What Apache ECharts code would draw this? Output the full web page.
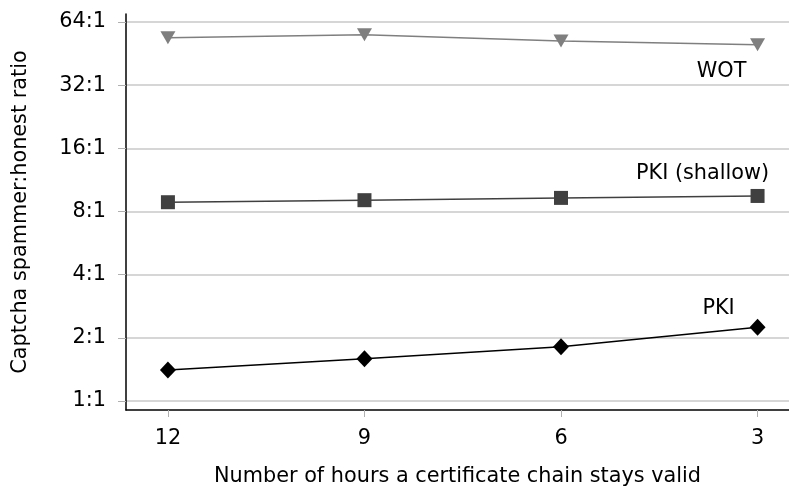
<!DOCTYPE html>
<html><head><meta charset="utf-8">
<script src="https://cdn.jsdelivr.net/npm/echarts@6/dist/echarts.min.js"></script>
<style>html,body{margin:0;padding:0;background:#fff}#c{width:789px;height:486px}</style>
</head><body><div id="c"></div>
<script>
const hours = [12, 9, 6, 3];
const wot = [53.9, 55.7, 52.0, 49.9];
const pkiShallow = [8.86, 9.06, 9.29, 9.49];
const pki = [1.405, 1.59, 1.816, 2.247];
const yTicks = [1, 2, 4, 8, 16, 32, 64];
const yTickLabels = ['1:1', '2:1', '4:1', '8:1', '16:1', '32:1', '64:1'];
const seriesNames = ['WOT', 'PKI (shallow)', 'PKI'];

const FONT = 'DejaVu Sans';
const FS = 20.8;
function mk(vals, name, labelOffset) {
  return vals.map((v, i) => {
    const d = { value: [hours[i], v] };
    if (i === vals.length - 1) {
      d.label = { show: true, position: 'inside', formatter: name, offset: labelOffset,
        color: '#000', fontFamily: FONT, fontSize: FS };
    }
    return d;
  });
}
const chart = echarts.init(document.getElementById('c'), null, { renderer: 'canvas' });
chart.setOption({
  animation: false,
  grid: { left: 126, right: 0, top: 14, bottom: 76, containLabel: false, outerBoundsMode: 'none' },
  xAxis: {
    type: 'value', inverse: true, min: 2.52, max: 12.64,
    name: 'Number of hours a certificate chain stays valid',
    nameLocation: 'middle', nameGap: 56,
    nameTextStyle: { fontFamily: FONT, fontSize: FS, color: '#000' },
    axisLine: { show: true, onZero: false, lineStyle: { color: '#000', width: 1.5 } },
    axisTick: { show: true, length: 7, customValues: hours, lineStyle: { color: '#b0b0b0', width: 1 } },
    axisLabel: { customValues: hours, margin: 18, fontFamily: FONT, fontSize: FS, color: '#000' },
    splitLine: { show: false }
  },
  yAxis: {
    type: 'log', logBase: 2, min: 0.906, max: 69.9,
    name: 'Captcha spammer:honest ratio',
    nameLocation: 'middle', nameGap: 95,
    nameTextStyle: { fontFamily: FONT, fontSize: FS, color: '#000' },
    axisLine: { show: true, lineStyle: { color: '#000', width: 1.5 } },
    axisTick: { show: true, length: 8, customValues: yTicks, lineStyle: { color: '#b0b0b0', width: 1 } },
    axisLabel: { customValues: yTicks, margin: 20, fontFamily: FONT, fontSize: FS, color: '#000',
      formatter: v => { const i = yTicks.indexOf(Math.round(v)); return i >= 0 ? yTickLabels[i] : ''; } },
    splitLine: { show: true, lineStyle: { color: '#c8c8c8', width: 1.5 } }
  },
  series: [
    { name: seriesNames[0], type: 'line', data: mk(wot, seriesNames[0], [-36, 27]),
      symbol: 'triangle', symbolRotate: 180, symbolSize: [15, 13],
      lineStyle: { color: '#7f7f7f', width: 1.5 }, itemStyle: { color: '#7f7f7f' } },
    { name: seriesNames[1], type: 'line', data: mk(pkiShallow, seriesNames[1], [-55, -22]),
      symbol: 'rect', symbolSize: 14,
      lineStyle: { color: '#404040', width: 1.5 }, itemStyle: { color: '#404040' } },
    { name: seriesNames[2], type: 'line', data: mk(pki, seriesNames[2], [-39, -19]),
      symbol: 'diamond', symbolSize: [16, 17],
      lineStyle: { color: '#000', width: 1.5 }, itemStyle: { color: '#000' } }
  ]
});
</script></body></html>
